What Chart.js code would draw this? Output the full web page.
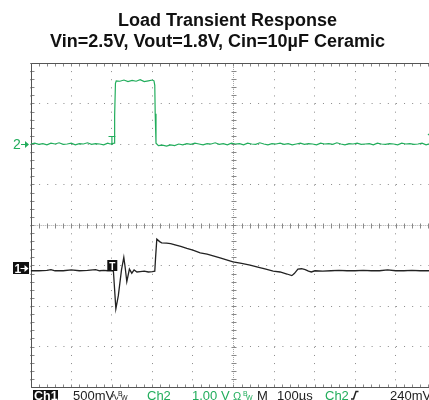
<!DOCTYPE html>
<html lang="en">
<head>
  <meta charset="UTF-8">
  <title>Load Transient Response</title>
  <script src="https://cdn.jsdelivr.net/npm/chart.js"></script>
  <style>
    html, body { margin: 0; padding: 0; background: #fff; overflow: hidden; }
    #wrap { width: 429px; height: 400px; overflow: hidden; }
  </style>
</head>
<body>
  <div id="wrap"><canvas id="scope" width="440" height="400"></canvas></div>

  <script>
    const titleLines = ['Load Transient Response', 'Vin=2.5V, Vout=1.8V, Cin=10\u00b5F Ceramic'];

    // time in us (100us/div, trigger at 0), level in screen divisions from centre
    const timeMin = -200, timeMax = 800, timeStep = 100;
    const divMin = -4, divMax = 4;

    // Ch2 - load step, 1.00 V/div, ground marker at +2 div
    const ch2Time = [
      -200, -190, -180, -170, -160, -150, -140, -130, -120, -110, -100, -90, -80, -70, -60,
      -50, -40, -30, -20, -10, -4, 6, 7, 9, 11, 20, 30, 40, 50, 60, 70, 80, 90, 100, 104,
      106, 107, 109, 115, 125, 135, 145, 155, 165, 175, 185, 195, 205, 215, 225, 235, 245,
      255, 265, 275, 285, 295, 305, 315, 325, 335, 345, 355, 365, 375, 385, 395, 405, 415,
      425, 435, 445, 455, 465, 475, 485, 495, 505, 515, 525, 535, 545, 555, 565, 575, 585,
      595, 605, 615, 625, 635, 645, 655, 665, 675, 685, 695, 705, 715, 725, 735, 745, 755,
      765, 775, 785, 795, 805
    ];
    const ch2Level = [
      2.00, 2.02, 1.99, 2.01, 1.98, 2.02, 2.00, 2.03, 1.99, 2.00, 2.02, 1.98, 2.01, 2.00, 2.03,
      1.99, 2.01, 2.00, 1.98, 2.02, 2.00, 2.02, 2.70, 3.50, 3.56, 3.55, 3.58, 3.54, 3.57, 3.55, 3.59, 3.54, 3.56, 3.58, 3.56,
      3.45, 2.75, 2.02, 1.96, 1.97, 1.95, 1.98, 1.96, 2.00, 1.98, 2.01, 1.99, 2.02, 2.00, 1.98, 2.01, 2.00,
      2.03, 1.99, 2.01, 1.98, 2.02, 2.00, 2.01, 1.98, 2.02, 2.00, 1.99, 2.03, 2.00, 1.98, 2.01, 2.00, 2.02,
      1.99, 2.01, 1.98, 2.00, 2.02, 1.99, 2.01, 2.00, 1.98, 2.02, 2.00, 2.01, 1.99, 2.03, 2.00, 1.98, 2.01,
      2.00, 2.02, 1.99, 2.00, 2.01, 1.98, 2.02, 2.00, 1.99, 2.01, 2.00, 1.98, 2.02, 2.00, 2.01, 1.99, 2.00,
      2.02, 1.98, 2.01, 2.00, 2.00
    ];

    // Ch1 - output voltage, 500 mV/div
    const ch1Time = [
      -200, -180, -160, -150, -140, -120, -100, -80, -60, -40, -30, -20, -10, 0, 4,
      10, 16, 24, 29.6, 33, 37, 43.4, 49.3, 55, 62, 70, 80, 90, 100, 106,
      108, 111, 118, 123, 135, 145, 156, 170, 185, 200, 218, 235, 250, 267, 283, 299,
      320, 341, 360, 380, 398, 415, 432, 444, 450, 459, 468, 477, 485, 492, 501,
      520, 540, 560, 580, 600, 620, 640, 660, 680, 700, 720, 740, 760, 780, 800
    ];
    const ch1Level = [
      -1.13, -1.13, -1.12, -1.10, -1.13, -1.13, -1.11, -1.13, -1.12, -1.10, -1.13, -1.12, -1.13, -1.13, -1.14,
      -2.07, -1.75, -1.10, -0.80, -1.05, -1.40, -1.09, -1.19, -1.11, -1.16, -1.15, -1.14, -1.16, -1.15, -1.14,
      -0.80, -0.35, -0.41, -0.44, -0.45, -0.46, -0.49, -0.53, -0.58, -0.62, -0.69, -0.72, -0.76, -0.81, -0.86, -0.91,
      -0.95, -0.99, -1.04, -1.09, -1.14, -1.16, -1.21, -1.25, -1.20, -1.09, -1.08, -1.10, -1.14, -1.16, -1.13,
      -1.14, -1.13, -1.12, -1.13, -1.13, -1.12, -1.13, -1.13, -1.11, -1.13, -1.13, -1.12, -1.13, -1.13, -1.12
    ];

    const ch1Ground = -1.06, ch2Ground = 2.0, ch2TrigLevel = 2.24;

    const green = '#22ad5c';
    const ink = '#222';

    // scope graticule: frame, fine centre lines and minor ticks
    const graticule = {
      id: 'graticule',
      beforeDatasetsDraw(chart) {
        const { ctx, chartArea: a, scales: { x, y } } = chart;
        const mx = (x.getPixelForValue(timeStep) - x.getPixelForValue(0)) / 5;
        const my = (y.getPixelForValue(0) - y.getPixelForValue(1)) / 5;
        const cx = Math.round(x.getPixelForValue((timeMin + timeMax) / 2)) + 0.5;
        const cy = Math.round(y.getPixelForValue(0)) + 0.5;
        const L = Math.round(a.left) + 0.5, T = Math.round(a.top) + 0.5, B = Math.round(a.bottom) + 0.5;
        const seg = (x1, y1, x2, y2) => { ctx.moveTo(x1, y1); ctx.lineTo(x2, y2); };

        ctx.save();
        ctx.lineWidth = 1;
        ctx.strokeStyle = '#aaa';
        ctx.setLineDash([1, 1]);
        ctx.beginPath();
        seg(cx, a.top, cx, a.bottom);
        seg(a.left, cy, a.right, cy);
        ctx.stroke();
        ctx.setLineDash([]);

        ctx.strokeStyle = '#888';
        ctx.beginPath();
        for (let px = a.left; px <= a.right + 0.5; px += mx) {
          const p = Math.round(px) + 0.5;
          seg(p, cy - 2, p, cy + 3);
          seg(p, T, p, T + 3);
          seg(p, B - 3, p, B);
        }
        for (let py = a.top; py <= a.bottom + 0.5; py += my) {
          const p = Math.round(py) + 0.5;
          seg(cx - 2, p, cx + 3, p);
          seg(L, p, L + 3, p);
        }
        ctx.stroke();

        ctx.strokeStyle = '#555';
        ctx.beginPath();
        seg(L, T, L, B);
        seg(L, T, a.right, T);
        seg(L, B, a.right, B);
        ctx.stroke();
        ctx.restore();
      }
    };

    // title, channel markers and the scope status line
    const labels = {
      id: 'labels',
      afterDraw(chart) {
        const { ctx, scales: { x, y } } = chart;
        ctx.save();

        ctx.fillStyle = '#111';
        ctx.textAlign = 'center';
        ctx.textBaseline = 'alphabetic';
        ctx.font = 'bold 18px "Liberation Sans", Arial, sans-serif';
        ctx.fillText(titleLines[0], 227.5, 26);
        ctx.fillText(titleLines[1], 217.5, 47.3);

        const arrow = (x0, yy, color) => {
          ctx.strokeStyle = color; ctx.fillStyle = color; ctx.lineWidth = 1;
          ctx.beginPath(); ctx.moveTo(x0, yy + 0.5); ctx.lineTo(x0 + 5, yy + 0.5); ctx.stroke();
          ctx.beginPath(); ctx.moveTo(x0 + 4, yy - 3); ctx.lineTo(x0 + 8, yy + 0.5); ctx.lineTo(x0 + 4, yy + 4); ctx.closePath(); ctx.fill();
        };

        // Ch2 ground marker
        const y2 = Math.round(y.getPixelForValue(ch2Ground));
        ctx.textAlign = 'left';
        ctx.font = '14px "Liberation Sans", Arial, sans-serif';
        ctx.fillStyle = green;
        ctx.fillText('2', 13, y2 + 5);
        arrow(21, y2, green);

        // Ch1 ground marker
        const y1 = Math.round(y.getPixelForValue(ch1Ground));
        ctx.fillStyle = '#111';
        ctx.fillRect(13, y1 - 6, 16, 12);
        ctx.fillStyle = '#fff';
        ctx.font = 'bold 12px "Liberation Sans", Arial, sans-serif';
        ctx.fillText('1', 14.5, y1 + 4.5);
        arrow(20.5, y1, '#fff');

        // trigger position markers
        const xt = x.getPixelForValue(0);
        ctx.textAlign = 'center';
        ctx.fillStyle = green;
        ctx.font = '12px "Liberation Sans", Arial, sans-serif';
        ctx.fillText('T', xt, y2 + 0.5);
        ctx.fillStyle = '#111';
        ctx.fillRect(xt - 4.5, y1 - 8, 10, 11);
        ctx.fillStyle = '#fff';
        ctx.font = 'bold 10px "Liberation Sans", Arial, sans-serif';
        ctx.fillText('T', xt + 0.5, y1 + 1.5);

        // trigger level marker at the right edge (mostly off screen)
        const yl = Math.round(y.getPixelForValue(ch2TrigLevel));
        ctx.fillStyle = green;
        ctx.beginPath(); ctx.moveTo(427.5, yl + 0.5); ctx.lineTo(431, yl - 2); ctx.lineTo(431, yl + 3); ctx.closePath(); ctx.fill();

        // status line
        const base = 400;
        ctx.textAlign = 'left';
        const txt = (s, px, color, font) => {
          ctx.fillStyle = color;
          ctx.font = font || '13px "Liberation Sans", Arial, sans-serif';
          ctx.fillText(s, px, base);
        };
        const small = (s, px, py, color) => {
          ctx.fillStyle = color;
          ctx.font = '7px "Liberation Sans", Arial, sans-serif';
          ctx.fillText(s, px, py);
        };
        ctx.fillStyle = '#111';
        ctx.fillRect(33, 390, 25, 12);
        txt('Ch1', 34, '#fff', 'bold 12.5px "Liberation Sans", Arial, sans-serif');
        txt('500mV', 73, ink);
        txt('\u223f', 111, ink, '10px "DejaVu Sans", sans-serif');
        small('B', 118, 396, ink);
        small('W', 121, 400, ink);
        txt('Ch2', 147, green);
        txt('1.00 V', 192, green);
        txt('\u03a9', 233, green, '11px "Liberation Sans", Arial, sans-serif');
        small('B', 243, 396, green);
        small('W', 246, 400, green);
        txt('M', 257, ink);
        txt('100\u00b5s', 277, ink);
        txt('Ch2', 325, green);
        ctx.strokeStyle = ink; ctx.lineWidth = 1.5;
        ctx.beginPath(); ctx.moveTo(351, 399); ctx.lineTo(353.5, 399); ctx.lineTo(356, 391.5); ctx.lineTo(358.5, 391.5); ctx.stroke();
        txt('240mV', 390, ink);

        ctx.restore();
      }
    };

    const gridDiv = (40.55 / 5);

    new Chart(document.getElementById('scope'), {
      type: 'line',
      data: {
        datasets: [
          {
            label: 'Ch2',
            data: ch2Time.map((t, i) => ({ x: t, y: ch2Level[i] })),
            borderColor: green,
            borderWidth: 1.2,
            pointRadius: 0,
            tension: 0
          },
          {
            label: 'Ch1',
            data: ch1Time.map((t, i) => ({ x: t, y: ch1Level[i] })),
            borderColor: ink,
            borderWidth: 1.3,
            pointRadius: 0,
            tension: 0
          }
        ]
      },
      options: {
        responsive: false,
        animation: false,
        layout: { padding: { left: 30.7, top: 63, right: 3.8, bottom: 13 } },
        plugins: {
          legend: { display: false },
          tooltip: { enabled: false },
          title: { display: false }
        },
        scales: {
          x: {
            type: 'linear',
            min: timeMin,
            max: timeMax,
            ticks: { display: false, stepSize: timeStep },
            grid: { color: '#8a8a8a', lineWidth: 1, drawTicks: false },
            border: { display: false, dash: [1, gridDiv - 1] }
          },
          y: {
            min: divMin,
            max: divMax,
            ticks: { display: false, stepSize: 1 },
            grid: { color: '#8a8a8a', lineWidth: 1, drawTicks: false },
            border: { display: false, dash: [1, gridDiv - 1] }
          }
        }
      },
      plugins: [graticule, labels]
    });
  </script>
</body>
</html>
